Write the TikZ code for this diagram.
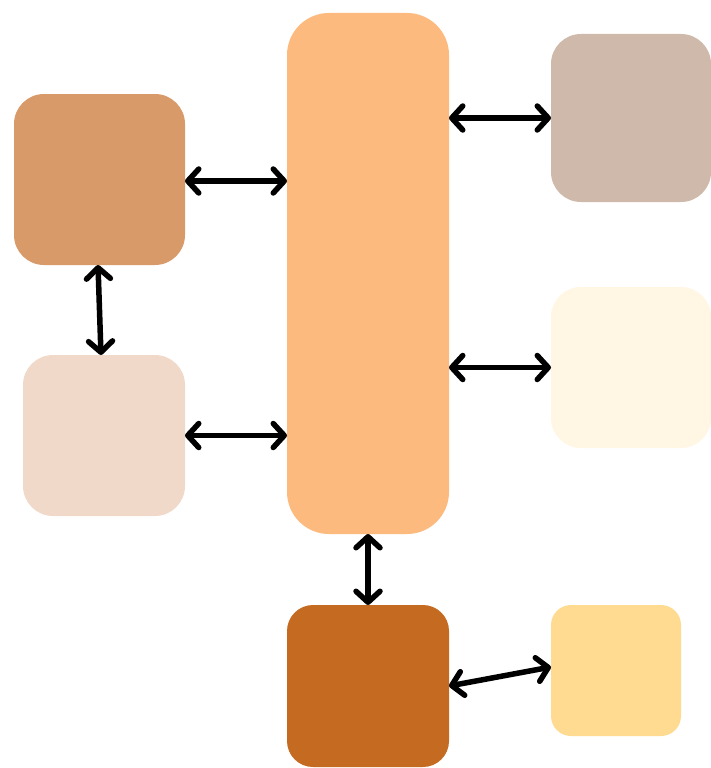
\documentclass[tikz,border=0pt]{standalone}
\usetikzlibrary{arrows.meta}
\definecolor{cmain}{HTML}{FDBA7E}
\definecolor{ctl}{HTML}{D89A68}
\definecolor{cml}{HTML}{F0D9C8}
\definecolor{ctr}{HTML}{CEB9AA}
\definecolor{cmr}{HTML}{FFF6E4}
\definecolor{cbc}{HTML}{C46A21}
\definecolor{cbr}{HTML}{FEDB91}
\tikzset{
  blk/.style={rectangle, draw=none, inner sep=0pt, outer sep=0pt},
  link/.style={line width=5.5pt, line cap=round, line join=round,
    {Straight Barb[length=11pt,width=24pt,line cap=round,line join=round]}-{Straight Barb[length=11pt,width=24pt,line cap=round,line join=round]}}
}
\begin{document}
\begin{tikzpicture}[x=1pt,y=-1pt]
\useasboundingbox (0,0) rectangle (711,768);
\node[blk, fill=cmain, minimum width=162pt, minimum height=521pt, rounded corners=42pt] (C) at (368,273.5) {};
\node[blk, fill=ctl, minimum width=171pt, minimum height=171pt, rounded corners=30pt] (TL) at (99.5,179.5) {};
\node[blk, fill=cml, minimum width=162pt, minimum height=161pt, rounded corners=30pt] (ML) at (104,435.5) {};
\node[blk, fill=ctr, minimum width=160pt, minimum height=168pt, rounded corners=30pt] (TR) at (631,118) {};
\node[blk, fill=cmr, minimum width=160pt, minimum height=161pt, rounded corners=30pt] (MR) at (631,367.5) {};
\node[blk, fill=cbc, minimum width=162pt, minimum height=162pt, rounded corners=26pt] (BC) at (368,686) {};
\node[blk, fill=cbr, minimum width=130pt, minimum height=131pt, rounded corners=20pt] (BR) at (616,670.5) {};
\draw[link] ([yshift=-1.5pt]TL.east) -- ([yshift=-1.5pt]TL.east -| C.west);
\draw[link] (ML.east) -- (ML.east -| C.west);
\draw[link] ([xshift=-1.5pt]TL.south) -- ([xshift=-3pt]ML.north);
\draw[link] (TR.west) -- (TR.west -| C.east);
\draw[link] (MR.west) -- (MR.west -| C.east);
\draw[link] (C.south) -- (BC.north);
\draw[link] (BC.east) -- ([yshift=3.5pt]BR.west);
\end{tikzpicture}
\end{document}
